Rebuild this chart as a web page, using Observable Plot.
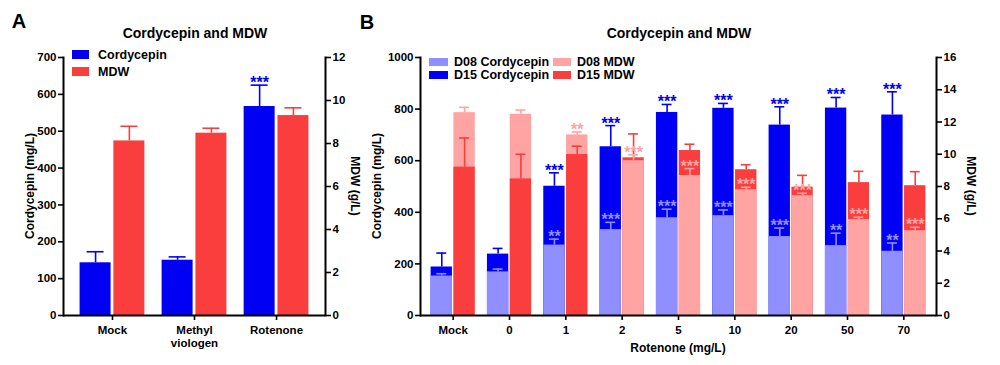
<!DOCTYPE html>
<html><head><meta charset="utf-8">
<script src="https://cdn.jsdelivr.net/npm/d3@7"></script>
<script src="https://cdn.jsdelivr.net/npm/@observablehq/plot@0.6"></script>
<style>
body{margin:0;background:#fff;}
#root{position:relative;width:1000px;height:365px;font-family:"Liberation Sans",Arial,sans-serif;font-weight:bold;color:#000;overflow:hidden;background:#fff}
.lab{position:absolute;white-space:nowrap;line-height:1;transform-origin:center center}
.sw{position:absolute}
</style></head><body><div id="root"></div>
<script>
// ---------- Panel A data ----------
const titleA = "Cordycepin and MDW";
const groupsA = ["Mock", "Methyl viologen", "Rotenone"];
const seriesA = ["Cordycepin", "MDW"];
const cordA = [143, 150, 567];
const cordASD = [30, 9, 58];
const cordASig = ["", "", "***"];
const mdwA = [8.12, 8.48, 9.30];
const mdwASD = [0.68, 0.23, 0.36];
const mdwASig = ["", "", ""];
const leftTicksA = [0, 100, 200, 300, 400, 500, 600, 700];
const rightTicksA = [0, 2, 4, 6, 8, 10, 12];

// ---------- Panel B data ----------
const titleB = "Cordycepin and MDW";
const groupsB = ["Mock", "0", "1", "2", "5", "10", "20", "50", "70"];
const seriesB = ["D08 Cordycepin", "D15 Cordycepin", "D08 MDW", "D15 MDW"];
const d08Cord = [153, 169, 273, 333, 379, 387, 306, 271, 249];
const d08CordSD = [9, 11, 23, 28, 33, 22, 33, 48, 32];
const d08CordSig = ["", "", "**", "***", "***", "***", "***", "**", "**"];
const d15Cord = [188, 238, 501, 654, 787, 803, 738, 804, 777];
const d15CordSD = [54, 22, 52, 82, 31, 19, 71, 41, 90];
const d15CordSig = ["", "", "***", "***", "***", "***", "***", "***", "***"];
const d08MDW = [12.58, 12.48, 11.20, 9.60, 8.68, 7.80, 7.43, 5.95, 5.26];
const d08MDWSD = [0.33, 0.26, 0.18, 0.37, 0.43, 0.15, 0.15, 0.14, 0.21];
const d08MDWSig = ["", "", "**", "***", "***", "***", "***", "***", "***"];
const d15MDW = [9.20, 8.47, 9.98, 9.78, 10.23, 9.04, 7.95, 8.24, 8.05];
const d15MDWSD = [1.81, 1.53, 0.52, 1.48, 0.39, 0.31, 0.74, 0.70, 0.87];
const d15MDWSig = ["", "", "", "", "", "", "", "", ""];
const leftTicksB = [0, 200, 400, 600, 800, 1000];
const rightTicksB = [0, 2, 4, 6, 8, 10, 12, 14, 16];
const xLabelB = "Rotenone (mg/L)";
const yLabelLeft = "Cordycepin (mg/L)";
const yLabelRight = "MDW (g/L)";

const BLUE = "#0000f4", RED = "#fa3d3d", LBLUE = "#8f8fff", LRED = "#ffa3a3";

function rows(groups, mean, sd, sig, k, color) {
  return groups.map((g, i) => ({group: g, v: mean[i] * k, hi: (mean[i] + sd[i]) * k, sig: sig[i], color}));
}

function panel({width, mL, mR, groups, pIn, pOut, yMax, k, leftTicks, rightTicks, left, right, barInset, capInset, off, tickFmt}) {
  const marks = [];
  const sides = [[left, -off], [right, off]];
  for (const [data, dx] of sides) {
    const d = data.slice().sort((a, b) => b.v - a.v);
    marks.push(Plot.barY(d, {x: "group", y1: 0, y2: "v", fill: "color", insetLeft: barInset, insetRight: barInset, dx}));
  }
  for (const [data, dx] of sides) {
    const d = data.slice().sort((a, b) => b.v - a.v);
    marks.push(Plot.ruleX(d, {x: "group", y1: "v", y2: "hi", stroke: "color", strokeWidth: 1.6, dx}));
    marks.push(Plot.tickY(d, {x: "group", y: "hi", stroke: "color", strokeWidth: 1.6, insetLeft: capInset, insetRight: capInset, dx}));
    marks.push(Plot.text(d.filter(r => r.sig), {x: "group", y: "hi", text: "sig", fill: "color", dx, dy: 3, lineAnchor: "bottom", fontSize: 16, fontWeight: "bold"}));
  }
  marks.push(Plot.ruleY([0], {strokeWidth: 2}));
  marks.push(Plot.frame({anchor: "left", strokeWidth: 2}));
  marks.push(Plot.frame({anchor: "right", strokeWidth: 2}));
  marks.push(Plot.axisY({anchor: "left", ticks: leftTicks, tickFormat: d => String(d), tickSize: 5, tickPadding: 2, label: null, strokeWidth: 1.6, fontSize: 11.5, fontWeight: "bold"}));
  marks.push(Plot.axisY({anchor: "right", ticks: rightTicks.map(t => t * k), tickFormat: d => String(Math.round(d / k)), tickSize: 5, tickPadding: 2, label: null, strokeWidth: 1.6, fontSize: 11.5, fontWeight: "bold"}));
  marks.push(Plot.axisX({tickSize: 5, tickPadding: 4, label: null, strokeWidth: 1.6, fontSize: 11.5, fontWeight: "bold", tickFormat: tickFmt, lineHeight: 1.12}));
  return Plot.plot({
    width, height: 365, marginLeft: mL, marginRight: mR, marginTop: 57, marginBottom: 50,
    x: {type: "band", domain: groups, paddingInner: pIn, paddingOuter: pOut, round: false},
    y: {domain: [0, yMax]},
    color: {type: "identity"},
    style: {fontFamily: '"Liberation Sans", Arial, sans-serif', fontSize: "11.5px", fontWeight: "bold", color: "#000", background: "transparent", overflow: "visible"},
    marks
  });
}

const root = document.getElementById("root");

const kA = 700 / 12;
const svgA = panel({
  width: 370, mL: 63, mR: 45, groups: groupsA, pIn: 0.22, pOut: 0.207, yMax: 700, k: kA,
  leftTicks: leftTicksA, rightTicks: rightTicksA,
  left: rows(groupsA, cordA, cordASD, cordASig, 1, BLUE),
  right: rows(groupsA, mdwA, mdwASD, mdwASig, kA, RED),
  barInset: 16.5, capInset: 23.5, off: 16.9, tickFmt: d => d.replace(" ", "\n")
});
Object.assign(svgA.style, {position: "absolute", left: "0px", top: "0px"});
root.appendChild(svgA);

const kB = 1000 / 16;
const leftB = rows(groupsB, d15Cord, d15CordSD, d15CordSig, 1, BLUE).concat(rows(groupsB, d08Cord, d08CordSD, d08CordSig, 1, LBLUE));
const rightB = rows(groupsB, d08MDW, d08MDWSD, d08MDWSig, kB, LRED).concat(rows(groupsB, d15MDW, d15MDWSD, d15MDWSig, kB, RED));
const svgB = panel({
  width: 630, mL: 50, mR: 64, groups: groupsB, pIn: 0.22, pOut: 0.19, yMax: 1000, k: kB,
  leftTicks: leftTicksB, rightTicks: rightTicksB,
  left: leftB, right: rightB,
  barInset: 11.3, capInset: 17, off: 11.4, tickFmt: d => d
});
Object.assign(svgB.style, {position: "absolute", left: "370px", top: "0px"});
root.appendChild(svgB);

function lab(text, cx, cy, size, rot = 0) {
  const el = document.createElement("div");
  el.className = "lab";
  el.textContent = text;
  el.style.fontSize = size + "px";
  el.style.left = cx + "px";
  el.style.top = cy + "px";
  el.style.transform = `translate(-50%,-50%) rotate(${rot}deg)`;
  root.appendChild(el);
}
function legendItem(text, color, x, y, w, h, tx) {
  const s = document.createElement("div");
  s.className = "sw";
  Object.assign(s.style, {left: x + "px", top: y + "px", width: w + "px", height: h + "px", background: color});
  root.appendChild(s);
  const t = document.createElement("div");
  t.className = "lab";
  t.textContent = text;
  Object.assign(t.style, {left: tx + "px", top: (y + h / 2) + "px", fontSize: "12.5px", transform: "translateY(-50%)"});
  root.appendChild(t);
}

lab("A", 19, 21, 20);
lab("B", 367, 22, 20);
lab(titleA, 195, 33, 14);
lab(titleB, 679, 33, 14);
lab(yLabelLeft, 30, 186, 12, -90);
lab(yLabelRight, 355, 186, 12, 90);
lab(yLabelLeft, 377, 186, 12, -90);
lab(yLabelRight, 971, 186, 12, 90);
lab(xLabelB, 678, 348, 12);

legendItem(seriesA[0], BLUE, 72, 50, 17, 9, 98);
legendItem(seriesA[1], RED, 72, 67, 17, 9, 98);
legendItem(seriesB[0], LBLUE, 429, 58, 19, 8, 454);
legendItem(seriesB[1], BLUE, 429, 70.5, 19, 8, 454);
legendItem(seriesB[2], LRED, 553, 58, 18, 8, 577);
legendItem(seriesB[3], RED, 553, 70.5, 18, 8, 577);
</script></body></html>
